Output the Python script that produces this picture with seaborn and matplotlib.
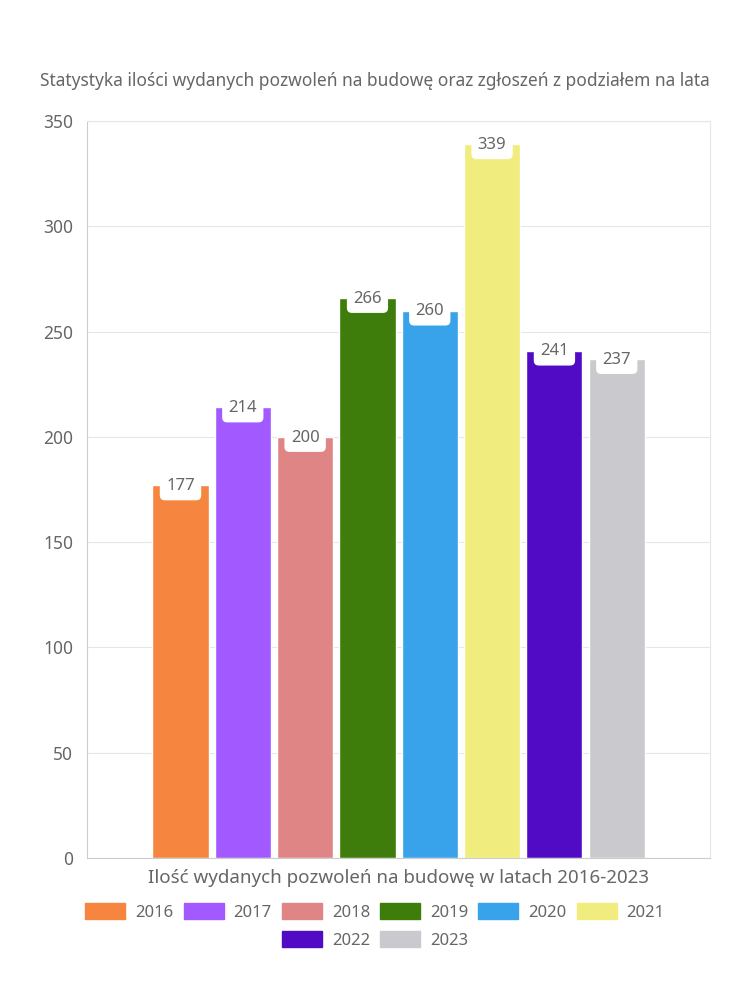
import pandas as pd
import matplotlib.pyplot as plt
import matplotlib.patches as mpatches
import seaborn as sns

lata = ['2016', '2017', '2018', '2019', '2020', '2021', '2022', '2023']
pozwolenia = [177, 214, 200, 266, 260, 339, 241, 237]
kolory = ['#F5853F', '#A259FF', '#E08585', '#3E7D0C', '#38A3EA', '#F0EC7E', '#520BC5', '#CACACE']
yticks = [0, 50, 100, 150, 200, 250, 300, 350]

df = pd.DataFrame({'grupa': [''] * len(lata), 'rok': lata, 'wartosc': pozwolenia})

sns.set_style('white')
plt.rcParams['font.family'] = ['Noto Sans', 'DejaVu Sans']
szary = '#666666'

fig = plt.figure(figsize=(7.5, 10), dpi=100)
ax = fig.add_axes([0.116, 0.142, 0.831, 0.737])

sns.barplot(data=df, x='grupa', y='wartosc', hue='rok', palette=kolory,
            gap=0.1, saturation=1, legend=False, ax=ax)

# etykiety w bialych ramkach na szczycie slupkow
for c in ax.containers:
    for bar in c:
        h = bar.get_height()
        ax.annotate(f'{h:.0f}', (bar.get_x() + bar.get_width() / 2, h),
                    xytext=(0, -0.5), textcoords='offset points',
                    ha='center', va='center', fontsize=12, color=szary,
                    bbox=dict(boxstyle='round,pad=0.38,rounding_size=0.3', fc='white', ec='none'),
                    zorder=5)

ax.set_ylim(0, 350)
ax.set_yticks(yticks)
ax.set_xticks([])
ax.set_ylabel('')
ax.set_xlabel('Ilość wydanych pozwoleń na budowę w latach 2016-2023', fontsize=13.5,
              color=szary, labelpad=8)
ax.tick_params(axis='y', length=6, color='#cccccc', labelsize=12.5, labelcolor=szary, pad=4)
ax.yaxis.grid(True, color='#e6e6e6', linewidth=0.8)
ax.set_axisbelow(True)
for s in ['top', 'right']:
    ax.spines[s].set_color('#e6e6e6')
for s in ['left', 'bottom']:
    ax.spines[s].set_color('#cccccc')

fig.text(0.5, 0.919, 'Statystyka ilości wydanych pozwoleń na budowę oraz zgłoszeń z podziałem na lata',
         ha='center', va='center', fontsize=12.5, color=szary)

uchwyty = [mpatches.Patch(color=k, label=r) for k, r in zip(kolory, lata)]
opcje = dict(loc='center', ncol=6, frameon=False, fontsize=12, labelcolor=szary,
             handlelength=2.4, handleheight=1.1, columnspacing=0.6, handletextpad=0.6)
leg1 = fig.legend(handles=uchwyty[:6], bbox_to_anchor=(0.5, 0.088), **opcje)
opcje['ncol'] = 2
leg2 = fig.legend(handles=uchwyty[6:], bbox_to_anchor=(0.5, 0.06), **opcje)

fig.savefig('out.png', dpi=100, facecolor='white')
